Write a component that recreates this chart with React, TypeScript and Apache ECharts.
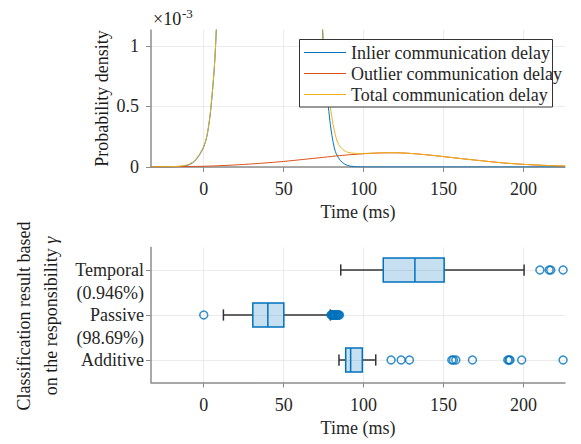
import React, { useEffect, useRef } from 'react';
import * as echarts from 'echarts';

// ---- Top panel: probability densities (values in units of 1e-3) ----
const inlierX = [-33, -25, -20, -15, -12, -10, -8, -6, -4, -2, 0, 2, 4, 6, 7, 8, 8.8, 40, 73.6, 74.5, 76, 77, 78, 79.2, 80.2, 81, 82.3, 83.5, 85, 86.5, 88, 90, 92.7, 96, 100, 110, 150, 226];
const inlierY = [0, 0.0003, 0.001, 0.004, 0.009, 0.015, 0.027, 0.045, 0.075, 0.115, 0.165, 0.255, 0.43, 0.71, 0.9, 1.17, 1.45, null, 1.35, 1.08, 0.75, 0.6, 0.49, 0.35, 0.26, 0.2, 0.128, 0.095, 0.062, 0.04, 0.025, 0.013, 0.005, 0.0015, 0.0005, 0, 0, 0];

const outlierX = [-33, -20, -10, 0, 12, 25, 37, 50, 62, 75, 85, 92, 100, 107, 114, 120, 127, 135, 143, 150, 162, 175, 187, 200, 212, 226];
const outlierY = [0.001, 0.002, 0.004, 0.006, 0.012, 0.021, 0.032, 0.046, 0.062, 0.08, 0.094, 0.102, 0.109, 0.114, 0.117, 0.117, 0.114, 0.106, 0.096, 0.086, 0.068, 0.05, 0.034, 0.022, 0.014, 0.008];

const totalX = [-33, -20, -15, -12, -10, -8, -6, -4, -2, 0, 2, 4, 6, 7, 8, 8.8, 40, 73.6, 74.6, 76, 77.5, 79.2, 80.9, 82.2, 83.4, 84.5, 85.4, 87, 88.5, 90, 91.7, 94, 97, 100, 107, 114, 120, 127, 135, 143, 150, 162, 175, 187, 200, 212, 226];
const totalY = [0.001, 0.003, 0.007, 0.013, 0.019, 0.031, 0.05, 0.08, 0.12, 0.17, 0.26, 0.435, 0.715, 0.905, 1.175, 1.455, null, 1.35, 1.1, 0.82, 0.63, 0.49, 0.35, 0.27, 0.215, 0.185, 0.165, 0.145, 0.13, 0.122, 0.117, 0.113, 0.111, 0.112, 0.115, 0.118, 0.118, 0.114, 0.106, 0.096, 0.086, 0.068, 0.05, 0.034, 0.022, 0.014, 0.008];

const timeTicks = [0, 50, 100, 150, 200];
const densityTicks = [0, 0.5, 1];

// ---- Bottom panel: box plots ----
const classNames = ['Additive', 'Passive', 'Temporal'];
const classShares = ['(0.364%)', '(98.69%)', '(0.946%)'];
const classRows = [0, 1, 2];
// [whisker min, Q1, median, Q3, whisker max]
const additiveBox = [84.6, 88.8, 91.9, 99.2, 107.6];
const passiveBox = [12.3, 30.7, 40.1, 50.1, 79.2];
const temporalBox = [85.7, 112.3, 132.1, 150.4, 200.4];
const additiveOutliers = [117.2, 123.5, 128.7, 155.2, 156.2, 157.7, 168.1, 190.2, 191.0, 191.6, 198.9, 224.8];
const passiveOutliers = [0, 79.6, 80.0, 80.4, 80.8, 81.2, 81.6, 82.0, 82.4, 82.8, 83.2, 83.6, 84.0, 84.4, 84.9];
const temporalOutliers = [210.3, 216.1, 217.1, 224.8];

const FONT = 'Liberation Serif';
const TXT = '#262626';
const TXT_B = '#1a1a1a';
const AXIS = '#8c8c8c';
const GRIDC = '#ebebeb';
const BLUE = '#0072BD';
const SHARE_SHIFT = 0.511; // second label line sits one text line (23px) below the row

function pairs(xs: number[], ys: (number | null)[]) {
  return xs.map((x, i) => [x, ys[i] === null ? '-' : ys[i]]);
}

export default function App() {
  const ref = useRef<HTMLDivElement>(null);
  useEffect(() => {
    document.body.style.margin = '0';
    if (!ref.current) return;
    const chart = echarts.init(ref.current, undefined, { renderer: 'svg' });

    const boxes = [additiveBox, passiveBox, temporalBox].map((b, i) => [i, ...b]);
    const outliers: number[][] = [];
    additiveOutliers.forEach((v) => outliers.push([v, 0]));
    passiveOutliers.forEach((v) => outliers.push([v, 1]));
    temporalOutliers.forEach((v) => outliers.push([v, 2]));

    const txt = { fontFamily: FONT, fontSize: 18, color: TXT };

    const xAxisCommon = {
      type: 'value',
      min: -33,
      max: 226,
      axisLine: { show: true, onZero: false, lineStyle: { color: AXIS, width: 1.5 } },
      axisTick: { show: true, inside: false, length: 5, customValues: timeTicks, lineStyle: { color: AXIS, width: 1 } },
      axisLabel: { ...txt, customValues: timeTicks, margin: 13, hideOverlap: false },
      splitLine: { show: true, lineStyle: { color: GRIDC, width: 1 } },
      name: 'Time (ms)',
      nameLocation: 'middle',
      nameGap: 36,
      nameTextStyle: { ...txt },
    };

    const gtext = (text: string, x: number, y: number, size: number, rotation = 0, align = 'left', extra: any = {}) => ({
      type: 'text',
      x,
      y,
      rotation,
      style: { text, font: size + 'px "Liberation Serif"', fill: TXT_B, align, verticalAlign: 'middle', ...extra },
    });

    const option: any = {
      animation: false,
      backgroundColor: '#ffffff',
      grid: [
        { left: 151, right: 16, top: 30, height: 137, outerBoundsMode: 'none', containLabel: false },
        { left: 151, right: 16, top: 247.5, height: 135, outerBoundsMode: 'none', containLabel: false },
      ],
      xAxis: [
        { ...xAxisCommon, gridIndex: 0 },
        { ...xAxisCommon, gridIndex: 1 },
      ],
      yAxis: [
        {
          type: 'value',
          gridIndex: 0,
          min: 0,
          max: 1.13,
          axisLine: { show: true, onZero: false, lineStyle: { color: AXIS, width: 1.5 } },
          axisTick: { show: true, inside: false, length: 5, customValues: densityTicks, lineStyle: { color: AXIS } },
          axisLabel: { ...txt, customValues: densityTicks, margin: 12, hideOverlap: false },
          splitLine: { show: true, lineStyle: { color: GRIDC, width: 1 } },
        },
        {
          type: 'value',
          gridIndex: 1,
          min: -0.5,
          max: 2.5,
          axisLine: { show: true, onZero: false, lineStyle: { color: AXIS, width: 1.5 } },
          axisTick: { show: true, inside: false, length: 5, customValues: classRows, lineStyle: { color: AXIS } },
          axisLabel: {
            ...txt,
            customValues: classRows,
            margin: 7,
            hideOverlap: false,
            formatter: (v: number) => classNames[Math.round(v)],
          },
          splitLine: { show: true, lineStyle: { color: GRIDC, width: 1 } },
        },
        {
          type: 'value',
          gridIndex: 1,
          min: -0.5,
          max: 2.5,
          position: 'left',
          axisLine: { show: false, onZero: false },
          axisTick: { show: false },
          splitLine: { show: false },
          axisLabel: {
            ...txt,
            customValues: classRows.map((r) => r - SHARE_SHIFT),
            margin: 7,
            hideOverlap: false,
            formatter: (v: number) => classShares[Math.round(v + SHARE_SHIFT)],
          },
        },
      ],
      legend: {
        show: true,
        left: 299,
        top: 39,
        orient: 'vertical',
        data: ['Inlier communication delay', 'Outlier communication delay', 'Total communication delay'],
        backgroundColor: 'transparent',
        borderWidth: 0,
        padding: [3, 6, 2, 5],
        itemGap: 0,
        icon: 'rect',
        itemWidth: 42,
        itemHeight: 1,
        selectedMode: false,
        textStyle: { ...txt, lineHeight: 21 },
        z: 6,
      },
      series: [
        {
          name: 'Inlier communication delay',
          type: 'line',
          xAxisIndex: 0,
          yAxisIndex: 0,
          data: pairs(inlierX, inlierY),
          symbol: 'none',
          smooth: 0.3,
          connectNulls: false,
          lineStyle: { color: BLUE, width: 1 },
          itemStyle: { color: BLUE },
          clip: true,
        },
        {
          name: 'Outlier communication delay',
          type: 'line',
          xAxisIndex: 0,
          yAxisIndex: 0,
          data: pairs(outlierX, outlierY),
          symbol: 'none',
          smooth: 0.3,
          lineStyle: { color: '#D95319', width: 1 },
          itemStyle: { color: '#D95319' },
          clip: true,
        },
        {
          name: 'Total communication delay',
          type: 'line',
          xAxisIndex: 0,
          yAxisIndex: 0,
          data: pairs(totalX, totalY),
          symbol: 'none',
          smooth: 0.3,
          connectNulls: false,
          lineStyle: { color: '#EDB120', width: 1 },
          itemStyle: { color: '#EDB120' },
          clip: true,
        },
        {
          type: 'custom',
          xAxisIndex: 1,
          yAxisIndex: 1,
          data: boxes,
          encode: { x: [1, 2, 3, 4, 5], y: 0 },
          renderItem: (params: any, api: any) => {
            const cat = api.value(0);
            const mn = api.value(1), q1 = api.value(2), md = api.value(3), q3 = api.value(4), mx = api.value(5);
            const band = Math.abs(api.size([0, 1])[1]);
            const boxH = band * 0.53;
            const capH = band * 0.25;
            const pMin = api.coord([mn, cat]);
            const pQ1 = api.coord([q1, cat]);
            const pMd = api.coord([md, cat]);
            const pQ3 = api.coord([q3, cat]);
            const pMax = api.coord([mx, cat]);
            const cy = pMin[1];
            const wStyle = { stroke: '#333333', lineWidth: 1.5 };
            return {
              type: 'group',
              children: [
                { type: 'line', shape: { x1: pMin[0], y1: cy, x2: pQ1[0], y2: cy }, style: wStyle },
                { type: 'line', shape: { x1: pQ3[0], y1: cy, x2: pMax[0], y2: cy }, style: wStyle },
                { type: 'line', shape: { x1: pMin[0], y1: cy - capH / 2, x2: pMin[0], y2: cy + capH / 2 }, style: wStyle },
                { type: 'line', shape: { x1: pMax[0], y1: cy - capH / 2, x2: pMax[0], y2: cy + capH / 2 }, style: wStyle },
                {
                  type: 'rect',
                  shape: { x: pQ1[0], y: cy - boxH / 2, width: pQ3[0] - pQ1[0], height: boxH },
                  style: { fill: 'rgba(0,114,189,0.22)', stroke: BLUE, lineWidth: 1.5 },
                },
                {
                  type: 'line',
                  shape: { x1: pMd[0], y1: cy - boxH / 2, x2: pMd[0], y2: cy + boxH / 2 },
                  style: { stroke: BLUE, lineWidth: 1.5 },
                },
              ],
            };
          },
        },
        {
          type: 'scatter',
          xAxisIndex: 1,
          yAxisIndex: 1,
          data: outliers,
          symbol: 'circle',
          symbolSize: 8,
          clip: false,
          itemStyle: { color: 'rgba(255,255,255,0)', borderColor: BLUE, borderWidth: 1.5 },
          z: 3,
        },
      ],
      graphic: [
        {
          type: 'rect',
          z: 5,
          shape: { x: 299.5, y: 39.5, width: 253, height: 67.5 },
          style: { fill: '#ffffff', stroke: '#333333', lineWidth: 1 },
        },
        gtext('×10', 153, 19, 18),
        gtext('-3', 182, 13, 13),
        gtext('Probability density', 102, 98.5, 18, Math.PI / 2, 'center'),
        gtext('Classification result based', 24, 316, 18, Math.PI / 2, 'center'),
        gtext('on the responsibility {g|γ}', 51, 316, 18, Math.PI / 2, 'center', {
          rich: { g: { font: 'italic 18px "Liberation Serif"', fill: TXT_B } },
        }),
      ],
    };

    chart.setOption(option);
    return () => chart.dispose();
  }, []);
  return <div ref={ref} style={{ width: 581, height: 444 }} />;
}
